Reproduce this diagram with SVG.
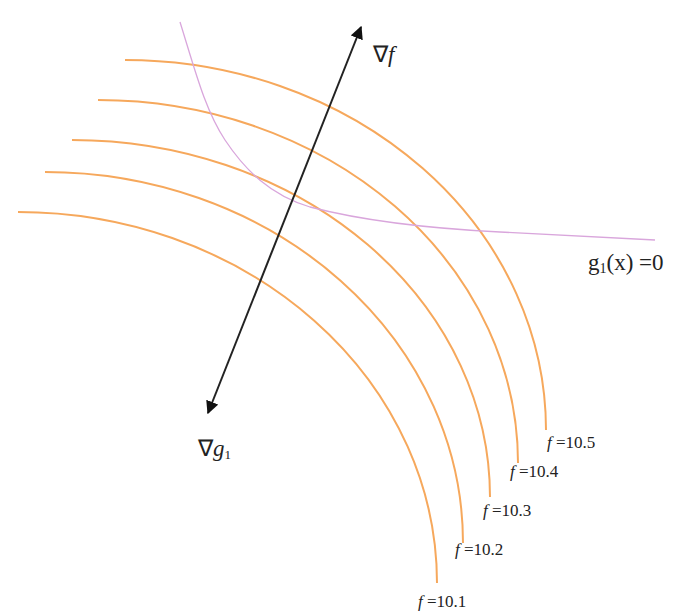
<svg xmlns="http://www.w3.org/2000/svg" width="695" height="613" viewBox="0 0 695 613">
<style>
.arc{fill:none;stroke:#f6a85c;stroke-width:2}
.lbl{font-family:"Liberation Serif",serif;font-size:17px;fill:#222}
.big{font-family:"Liberation Serif",serif;font-size:23px;fill:#222}
</style>
<defs>
<marker id="ah" viewBox="0 0 10 10" refX="9" refY="5" markerWidth="6.5" markerHeight="6.5" orient="auto-start-reverse" markerUnits="strokeWidth">
<path d="M0,0 L10,5 L0,10 z" fill="#111"/>
</marker>
</defs>
<rect width="695" height="613" fill="#fff"/>
<g id="contours">
<path class="arc" d="M125,60 A421,370 0 0 1 546,430"/>
<path class="arc" d="M98,100 A420,363 0 0 1 518,463"/>
<path class="arc" d="M72,140 A418,357 0 0 1 490,497"/>
<path class="arc" d="M45,172 A418,371 0 0 1 463,543"/>
<path class="arc" d="M18,212 A419,371 0 0 1 437,583"/>
</g>
<g id="constraint">
<path d="M180,22 C195,70 205,110 225,140 C245,170 270,195 310,207 C360,220 420,228 500,232 C560,235 610,238 655,240" fill="none" stroke="#d9a6dc" stroke-width="1.3"/>
</g>
<g id="connectors">
<line x1="208" y1="413" x2="361" y2="27" stroke="#222" stroke-width="2" marker-start="url(#ah)" marker-end="url(#ah)"/>
</g>
<g id="labels">
<text class="big" x="373" y="62">∇<tspan font-style="italic">f</tspan></text>
<text class="big" x="198" y="456">∇<tspan font-style="italic">g</tspan><tspan font-size="13" dy="3">1</tspan></text>
<text class="big" x="588" y="270">g<tspan font-size="14" dy="3">1</tspan><tspan dy="-3">(x) =0</tspan></text>
<text class="lbl" x="547" y="448"><tspan font-style="italic">f</tspan> =10.5</text>
<text class="lbl" x="510" y="477"><tspan font-style="italic">f</tspan> =10.4</text>
<text class="lbl" x="483" y="516"><tspan font-style="italic">f</tspan> =10.3</text>
<text class="lbl" x="455" y="555"><tspan font-style="italic">f</tspan> =10.2</text>
<text class="lbl" x="418" y="607"><tspan font-style="italic">f</tspan> =10.1</text>
</g>
</svg>
